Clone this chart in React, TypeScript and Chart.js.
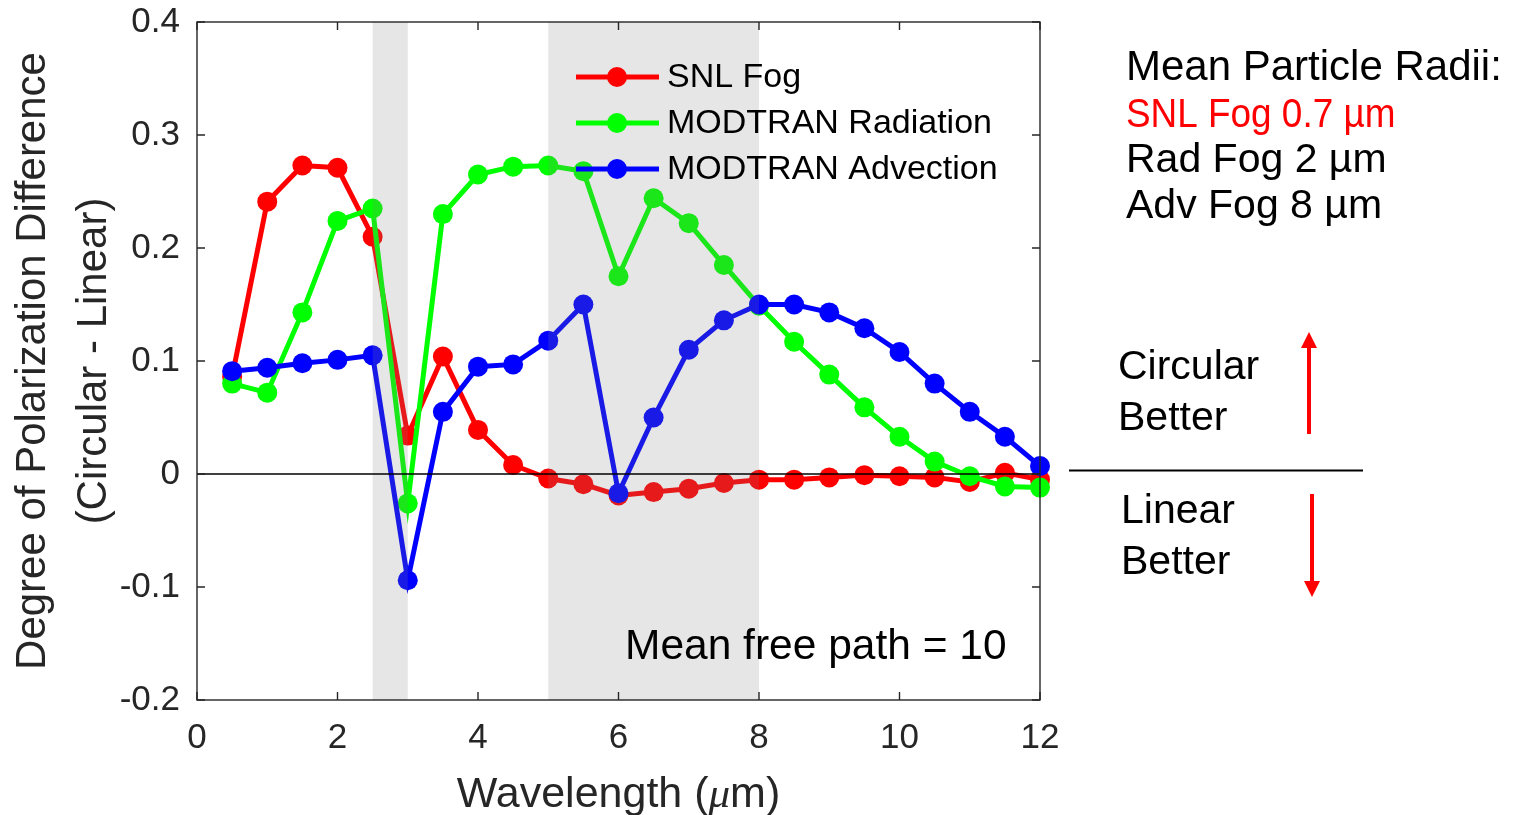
import React, { useEffect, useRef } from "react";
import { Chart, registerables } from "chart.js";

Chart.register(...registerables);

// ---------- data ----------
const wavelengths = [0.5, 1, 1.5, 2, 2.5, 3, 3.5, 4, 4.5, 5, 5.5, 6, 6.5, 7, 7.5, 8, 8.5, 9, 9.5, 10, 10.5, 11, 11.5, 12];

const snlFog = [0.086, 0.241, 0.273, 0.271, 0.21, 0.034, 0.104, 0.039, 0.008, -0.004, -0.009, -0.019, -0.016, -0.013, -0.008, -0.005, -0.005, -0.003, -0.001, -0.002, -0.003, -0.007, 0.001, -0.005];
const modtranRadiation = [0.08, 0.072, 0.143, 0.224, 0.235, -0.026, 0.23, 0.265, 0.272, 0.273, 0.268, 0.175, 0.244, 0.222, 0.185, 0.149, 0.117, 0.088, 0.059, 0.033, 0.011, -0.002, -0.011, -0.012];
const modtranAdvection = [0.091, 0.094, 0.098, 0.101, 0.105, -0.094, 0.055, 0.095, 0.097, 0.118, 0.15, -0.017, 0.05, 0.11, 0.136, 0.15, 0.15, 0.143, 0.129, 0.108, 0.08, 0.055, 0.033, 0.007];

const seriesNames = ["SNL Fog", "MODTRAN Radiation", "MODTRAN Advection"];
const seriesColors = ["#ff0000", "#00ff00", "#0000ff"];

const xTicks = [0, 2, 4, 6, 8, 10, 12];
const yTicks = [-0.2, -0.1, 0, 0.1, 0.2, 0.3, 0.4];
const yTickLabels = ["-0.2", "-0.1", "0", "0.1", "0.2", "0.3", "0.4"];

const shadedBands = [
  [2.5, 3],
  [5, 8],
];

const radiiTitle = "Mean Particle Radii:";
const radiiLines = ["SNL Fog 0.7 \u00b5m", "Rad Fog 2 \u00b5m", "Adv Fog 8 \u00b5m"];
const freePathLabel = "Mean free path = 10";

const FONT = '"Liberation Sans", Arial, Helvetica, sans-serif';
const AXIS_COLOR = "#262626";

const overlayPlugin = {
  id: "overlayPlugin",
  afterDatasetsDraw(chart: any) {
    const { ctx, chartArea: a, scales } = chart;
    const x = scales.x;
    const y = scales.y;
    ctx.save();
    // shaded bands (semi-transparent, over the lines)
    ctx.fillStyle = "rgba(128,128,128,0.2)";
    for (const [s, e] of shadedBands) {
      const x0 = x.getPixelForValue(s);
      const x1 = x.getPixelForValue(e);
      ctx.fillRect(x0, a.top, x1 - x0, a.bottom - a.top);
    }
    // zero line
    const y0 = y.getPixelForValue(0);
    ctx.strokeStyle = "#000";
    ctx.lineWidth = 1.3;
    ctx.beginPath();
    ctx.moveTo(a.left, y0);
    ctx.lineTo(a.right, y0);
    ctx.stroke();
    // axes box
    ctx.strokeStyle = AXIS_COLOR;
    ctx.lineWidth = 1.4;
    ctx.strokeRect(a.left, a.top, a.right - a.left, a.bottom - a.top);
    // inward ticks
    const tl = 8;
    ctx.beginPath();
    for (const t of xTicks) {
      const px = x.getPixelForValue(t);
      ctx.moveTo(px, a.bottom);
      ctx.lineTo(px, a.bottom - tl);
      ctx.moveTo(px, a.top);
      ctx.lineTo(px, a.top + tl);
    }
    for (const t of yTicks) {
      const py = y.getPixelForValue(t);
      ctx.moveTo(a.left, py);
      ctx.lineTo(a.left + tl, py);
      ctx.moveTo(a.right, py);
      ctx.lineTo(a.right - tl, py);
    }
    ctx.stroke();
    ctx.restore();
  },
  afterDraw(chart: any) {
    const { ctx, chartArea: a } = chart;
    ctx.save();

    // legend (inside plot, no box)
    ctx.font = `34px ${FONT}`;
    ctx.textBaseline = "middle";
    ctx.textAlign = "left";
    const legY = [77, 123, 169];
    for (let i = 0; i < seriesNames.length; i++) {
      const ly = legY[i];
      ctx.strokeStyle = seriesColors[i];
      ctx.lineWidth = 5;
      ctx.beginPath();
      ctx.moveTo(576, ly);
      ctx.lineTo(659, ly);
      ctx.stroke();
      ctx.fillStyle = seriesColors[i];
      ctx.beginPath();
      ctx.arc(617, ly, 10, 0, Math.PI * 2);
      ctx.fill();
      ctx.fillStyle = "#000";
      ctx.fillText(seriesNames[i], 667, ly + 1);
    }

    // mean free path label
    ctx.font = `42.5px ${FONT}`;
    ctx.fillStyle = "#000";
    ctx.fillText(freePathLabel, 625, 647);

    // y axis title (two lines, rotated)
    ctx.fillStyle = AXIS_COLOR;
    ctx.font = `42px ${FONT}`;
    ctx.textAlign = "center";
    ctx.textBaseline = "alphabetic";
    const cy = (a.top + a.bottom) / 2;
    ctx.save();
    ctx.translate(45, cy);
    ctx.rotate(-Math.PI / 2);
    ctx.fillText("Degree of Polarization Difference", 0, 0);
    ctx.restore();
    ctx.save();
    ctx.translate(106, cy);
    ctx.rotate(-Math.PI / 2);
    ctx.fillText("(Circular - Linear)", 0, 0);
    ctx.restore();

    // x axis title with italic mu
    const partA = "Wavelength (";
    const partB = "\u03bc";
    const partC = "m)";
    const fN = `43px ${FONT}`;
    const fI = `italic 43px "Liberation Serif", "Times New Roman", serif`;
    ctx.font = fN;
    const wA = ctx.measureText(partA).width;
    const wC = ctx.measureText(partC).width;
    ctx.font = fI;
    const wB = ctx.measureText(partB).width;
    const total = wA + wB + wC;
    let sx = (a.left + a.right) / 2 - total / 2;
    const ty = 807;
    ctx.textAlign = "left";
    ctx.font = fN;
    ctx.fillText(partA, sx, ty);
    sx += wA;
    ctx.font = fI;
    ctx.fillText(partB, sx, ty);
    sx += wB;
    ctx.font = fN;
    ctx.fillText(partC, sx, ty);

    // right-side annotations
    ctx.textBaseline = "middle";
    ctx.textAlign = "left";
    ctx.font = `42px ${FONT}`;
    ctx.fillStyle = "#000";
    ctx.fillText(radiiTitle, 1126, 68);
    const ry = [116, 161, 207];
    ctx.font = `41px ${FONT}`;
    for (let i = 0; i < radiiLines.length; i++) {
      ctx.fillStyle = i === 0 ? "#ff0000" : "#000";
      if (i === 0) {
        ctx.save();
        ctx.translate(1126, ry[i]);
        ctx.scale(0.9, 1);
        ctx.fillText(radiiLines[i], 0, 0);
        ctx.restore();
      } else {
        ctx.fillText(radiiLines[i], 1126, ry[i]);
      }
    }
    ctx.fillStyle = "#000";
    ctx.fillText("Circular", 1118, 368);
    ctx.fillText("Better", 1118, 419);
    ctx.fillText("Linear", 1121, 512);
    ctx.fillText("Better", 1121, 563);

    // divider line
    ctx.strokeStyle = "#000";
    ctx.lineWidth = 2;
    ctx.beginPath();
    ctx.moveTo(1069, 470.5);
    ctx.lineTo(1363, 470.5);
    ctx.stroke();

    // arrows
    ctx.strokeStyle = "#ff0000";
    ctx.fillStyle = "#ff0000";
    ctx.lineWidth = 4;
    ctx.beginPath();
    ctx.moveTo(1309, 434);
    ctx.lineTo(1309, 345);
    ctx.stroke();
    ctx.beginPath();
    ctx.moveTo(1309, 332);
    ctx.lineTo(1301, 348);
    ctx.lineTo(1317, 348);
    ctx.closePath();
    ctx.fill();

    ctx.beginPath();
    ctx.moveTo(1312, 494);
    ctx.lineTo(1312, 584);
    ctx.stroke();
    ctx.beginPath();
    ctx.moveTo(1312, 597);
    ctx.lineTo(1304, 581);
    ctx.lineTo(1320, 581);
    ctx.closePath();
    ctx.fill();

    ctx.restore();
  },
};

export default function App() {
  const canvasRef = useRef<HTMLCanvasElement | null>(null);

  useEffect(() => {
    const canvas = canvasRef.current;
    if (!canvas) return;
    const mk = (vals: number[]) => wavelengths.map((x, i) => ({ x, y: vals[i] }));
    const allSeries = [snlFog, modtranRadiation, modtranAdvection];
    const chart = new Chart(canvas, {
      type: "line",
      data: {
        datasets: allSeries.map((vals, i) => ({
          label: seriesNames[i],
          data: mk(vals),
          borderColor: seriesColors[i],
          backgroundColor: seriesColors[i],
          pointBackgroundColor: seriesColors[i],
          pointBorderWidth: 0,
          pointRadius: 10,
          pointHoverRadius: 10,
          borderWidth: 5,
          tension: 0,
          fill: false,
          clip: false as any,
          order: 2 - i,
        })),
      },
      options: {
        responsive: false,
        animation: false,
        events: [],
        layout: { padding: { left: 0, right: 477, top: 22, bottom: 0 } },
        plugins: {
          legend: { display: false },
          tooltip: { enabled: false },
          title: { display: false },
        },
        scales: {
          x: {
            type: "linear",
            min: 0,
            max: 12,
            grid: { display: false, drawTicks: false },
            border: { display: false },
            afterBuildTicks: (scale: any) => {
              scale.ticks = xTicks.map((v) => ({ value: v }));
            },
            ticks: {
              color: AXIS_COLOR,
              font: { family: FONT, size: 35 },
              padding: 17,
              maxRotation: 0,
              autoSkip: false,
              callback: (v: any) => String(v),
            },
            afterFit: (scale: any) => {
              scale.height = 115;
              scale.paddingLeft = 0;
              scale.paddingRight = 0;
            },
          },
          y: {
            type: "linear",
            min: -0.2,
            max: 0.4,
            grid: { display: false, drawTicks: false },
            border: { display: false },
            afterBuildTicks: (scale: any) => {
              scale.ticks = yTicks.map((v) => ({ value: v }));
            },
            ticks: {
              color: AXIS_COLOR,
              font: { family: FONT, size: 35 },
              padding: 17,
              autoSkip: false,
              callback: (v: any, idx: number) => yTickLabels[idx],
            },
            afterFit: (scale: any) => {
              scale.width = 197;
              scale.paddingTop = 0;
              scale.paddingBottom = 0;
            },
          },
        },
      },
      plugins: [overlayPlugin],
    } as any);
    return () => chart.destroy();
  }, []);

  return (
    <div style={{ position: "fixed", left: 0, top: 0, width: 1517, height: 815, background: "#fff" }}>
      <canvas ref={canvasRef} width={1517} height={815} style={{ display: "block" }} />
    </div>
  );
}
